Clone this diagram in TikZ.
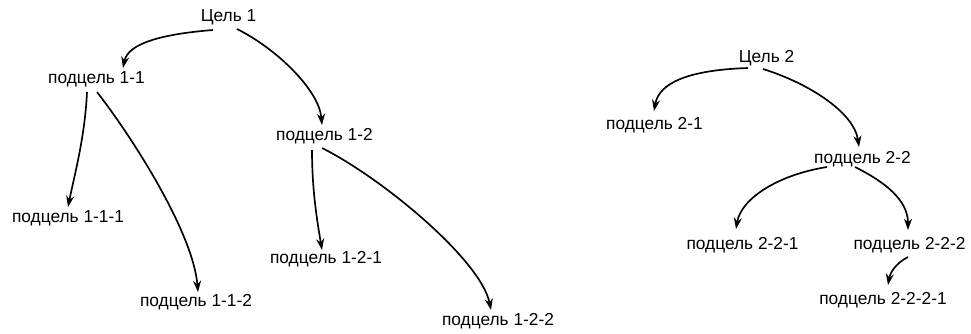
\documentclass[tikz,border=0pt]{standalone}
\usepackage{fontspec}
\setmainfont{Liberation Sans}
\usetikzlibrary{arrows.meta}
\begin{document}
\begin{tikzpicture}[x=0.75pt,y=-0.75pt,
  lbl/.style={anchor=base,inner sep=0pt,font=\fontsize{13}{15}\selectfont},
  link/.style={line width=1.25pt,-{Stealth[length=8.5pt,width=6pt]}}]
\useasboundingbox (0,0) rectangle (971,333);
% nodes
\node[lbl] (g1) at (228.5,21) {Цель 1};
\node[lbl] (s11) at (96.5,83) {подцель 1-1};
\node[lbl] (s12) at (324.5,140) {подцель 1-2};
\node[lbl] (s111) at (68,222) {подцель 1-1-1};
\node[lbl] (s112) at (196,306) {подцель 1-1-2};
\node[lbl] (s121) at (326,263) {подцель 1-2-1};
\node[lbl] (s122) at (498,325) {подцель 1-2-2};
\node[lbl] (g2) at (766.5,62) {Цель 2};
\node[lbl] (s21) at (654.5,129) {подцель 2-1};
\node[lbl] (s22) at (862.5,163) {подцель 2-2};
\node[lbl] (s221) at (742.5,249) {подцель 2-2-1};
\node[lbl] (s222) at (909.5,249) {подцель 2-2-2};
\node[lbl] (s2221) at (883,304) {подцель 2-2-2-1};
% connectors
\draw[link] ([shift={(-15.5,9)}]g1.base) .. controls +(-50,4) and +(5,-25) .. ([shift={(26.5,-15)}]s11.base);
\draw[link] ([shift={(8.5,8)}]g1.base) .. controls +(40,20) and +(-3,-35) .. ([shift={(-2.5,-15)}]s12.base);
\draw[link] ([shift={(-9.5,9)}]s11.base) .. controls +(-2,45) and +(6,-30) .. ([shift={(0,-15)}]s111.base);
\draw[link] ([shift={(0.5,9)}]s11.base) .. controls +(35,45) and +(-5,-60) .. ([shift={(2,-14)}]s112.base);
\draw[link] ([shift={(-12.5,10)}]s12.base) .. controls +(0,40) and +(-5,-30) .. ([shift={(-4,-13)}]s121.base);
\draw[link] ([shift={(-2.5,8)}]s12.base) .. controls +(60,30) and +(-10,-50) .. ([shift={(-7,-15)}]s122.base);
\draw[link] ([shift={(-18.5,6)}]g2.base) .. controls +(-60,2) and +(5,-28) .. ([shift={(-0.5,-18)}]s21.base);
\draw[link] ([shift={(-3.5,7)}]g2.base) .. controls +(45,14) and +(-5,-35) .. ([shift={(-3.5,-16)}]s22.base);
\draw[link] ([shift={(-35.5,4)}]s22.base) .. controls +(-50,8) and +(5,-30) .. ([shift={(-6.5,-20)}]s221.base);
\draw[link] ([shift={(-7.5,4)}]s22.base) .. controls +(30,15) and +(0,-30) .. ([shift={(-1.5,-19)}]s222.base);
\draw[link] ([shift={(-1.5,8)}]s222.base) .. controls +(-12,6) and +(2,-12) .. ([shift={(5,-19)}]s2221.base);
\end{tikzpicture}
\end{document}
